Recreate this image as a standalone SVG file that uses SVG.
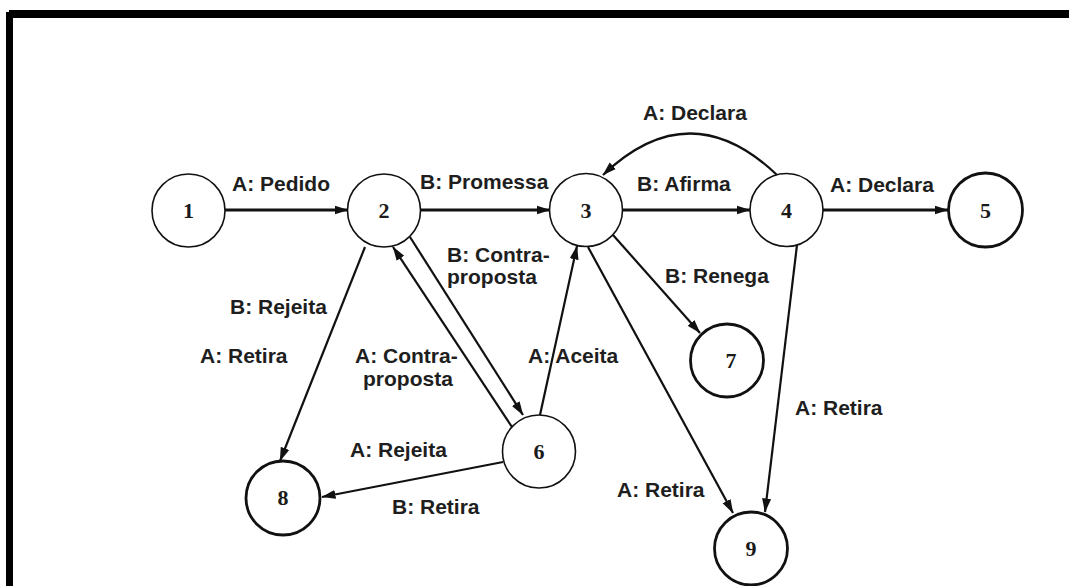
<svg xmlns="http://www.w3.org/2000/svg" width="1069" height="586" viewBox="0 0 1069 586">
  <style>
    .state { fill: #ffffff; stroke: #111; stroke-width: 1.6; }
    .final { fill: #ffffff; stroke: #111; stroke-width: 2.8; }
    .num { font-family: "Liberation Serif", "Times New Roman", serif; font-weight: bold; font-size: 22px; fill: #1a1a1a; text-anchor: middle; }
    .lbl { font-family: "Liberation Sans", Arial, sans-serif; font-weight: bold; font-size: 21px; fill: #1e1e1e; }
    .edge { fill: none; stroke: #111; stroke-width: 2.2; marker-end: url(#arrow); }
    .edge.h { stroke-width: 3; }
  </style>
  <defs>
    <marker id="arrow" viewBox="0 0 14 10" refX="13.5" refY="5" markerWidth="14" markerHeight="10" markerUnits="userSpaceOnUse" orient="auto">
      <path d="M0,0.5 L14,5 L0,9.5 z" fill="#111"/>
    </marker>
  </defs>

  <rect width="1069" height="586" fill="#ffffff"/>

  <!-- frame -->
  <g id="frame" fill="#000">
    <rect x="9" y="10" width="1060" height="8"/>
    <rect x="6" y="12" width="7" height="574"/>
  </g>

  <!-- connectors -->
  <g id="connectors">
    <path class="edge h" d="M225,210 L348,210"/>
    <path class="edge h" d="M420,210 L550,210"/>
    <path class="edge h" d="M622,210 L750,210"/>
    <path class="edge h" d="M822,210 L948,210"/>
    <path class="edge" d="M777,175 Q690,92 603,175"/>
    <path class="edge" d="M410,237 L523,415"/>
    <path class="edge" d="M512,427 L393,247"/>
    <path class="edge" d="M365,247 L280,461"/>
    <path class="edge" d="M540,415 L577,246"/>
    <path class="edge" d="M613,235 L700,333"/>
    <path class="edge" d="M588,247 L733,513"/>
    <path class="edge" d="M797,245 L765,512"/>
    <path class="edge" d="M503,462 L322,497"/>
  </g>

  <!-- edge labels -->
  <g id="labels">
    <text class="lbl" x="232" y="191">A: Pedido</text>
    <text class="lbl" x="420" y="189">B: Promessa</text>
    <text class="lbl" x="637" y="191">B: Afirma</text>
    <text class="lbl" x="830" y="192">A: Declara</text>
    <text class="lbl" x="643" y="120">A: Declara</text>
    <text class="lbl" x="447" y="262">B: Contra-</text>
    <text class="lbl" x="447" y="284">proposta</text>
    <text class="lbl" x="230" y="314">B: Rejeita</text>
    <text class="lbl" x="200" y="363">A: Retira</text>
    <text class="lbl" x="355" y="363">A: Contra-</text>
    <text class="lbl" x="363" y="386">proposta</text>
    <text class="lbl" x="528" y="363">A: Aceita</text>
    <text class="lbl" x="665" y="283">B: Renega</text>
    <text class="lbl" x="795" y="415">A: Retira</text>
    <text class="lbl" x="617" y="497">A: Retira</text>
    <text class="lbl" x="350" y="457">A: Rejeita</text>
    <text class="lbl" x="392" y="514">B: Retira</text>
  </g>

  <!-- states -->
  <g id="node1"><circle class="state" cx="188.5" cy="210.5" r="36.5"/><text class="num" x="188.5" y="218">1</text></g>
  <g id="node2"><circle class="state" cx="384" cy="210.5" r="36.5"/><text class="num" x="384" y="218">2</text></g>
  <g id="node3"><circle class="state" cx="586" cy="210" r="36.5"/><text class="num" x="586" y="218">3</text></g>
  <g id="node4"><circle class="state" cx="786.5" cy="210" r="36.5"/><text class="num" x="786.5" y="218">4</text></g>
  <g id="node5"><circle class="final" cx="985.5" cy="210" r="37"/><text class="num" x="985.5" y="218">5</text></g>
  <g id="node6"><circle class="state" cx="539" cy="451.5" r="36.5"/><text class="num" x="539" y="459">6</text></g>
  <g id="node7"><circle class="final" cx="727" cy="360.5" r="36.5"/><text class="num" x="731" y="368">7</text></g>
  <g id="node8"><circle class="final" cx="283" cy="498" r="37"/><text class="num" x="283" y="505">8</text></g>
  <g id="node9"><circle class="final" cx="751" cy="548.5" r="36.5"/><text class="num" x="751" y="556">9</text></g>
</svg>
